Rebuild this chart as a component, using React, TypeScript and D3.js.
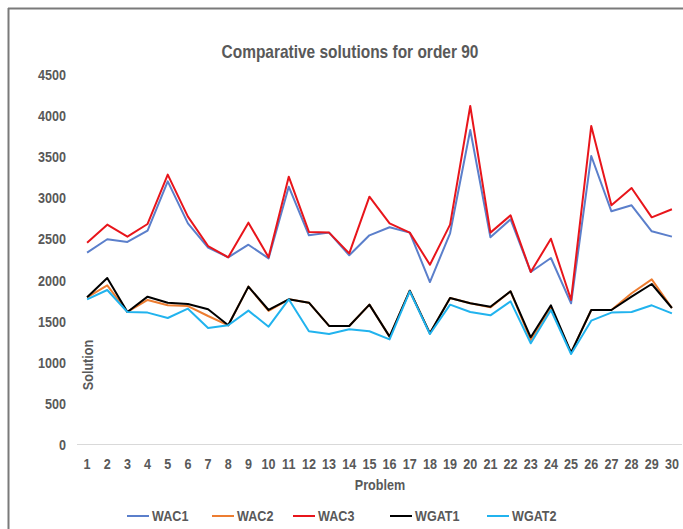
import React from "react";
import * as d3 from "d3";

const problems = d3.range(1, 31).map(String);
const yTicks = [0, 500, 1000, 1500, 2000, 2500, 3000, 3500, 4000, 4500];

const wac1 = [2339, 2502, 2469, 2607, 3207, 2696, 2400, 2283, 2436, 2270, 3142, 2550, 2583, 2307, 2550, 2648, 2583, 1982, 2575, 3831, 2526, 2745, 2104, 2274, 1723, 3515, 2842, 2915, 2599, 2534];
const wac2 = [1796, 1942, 1618, 1764, 1699, 1690, 1569, 1456, 1926, 1630, 1772, 1731, 1448, 1448, 1707, 1318, 1877, 1358, 1788, 1723, 1674, 1869, 1277, 1674, 1123, 1642, 1642, 1845, 2015, 1666];
const wac3 = [2460, 2680, 2534, 2688, 3288, 2777, 2420, 2283, 2704, 2283, 3263, 2591, 2583, 2331, 3020, 2696, 2583, 2193, 2680, 4123, 2583, 2793, 2104, 2509, 1764, 3880, 2915, 3126, 2769, 2867];
const wgat1 = [1796, 2031, 1618, 1804, 1731, 1715, 1650, 1456, 1926, 1642, 1772, 1731, 1448, 1448, 1707, 1318, 1877, 1358, 1788, 1723, 1682, 1869, 1310, 1699, 1123, 1642, 1642, 1804, 1958, 1666];
const wgat2 = [1772, 1885, 1618, 1610, 1545, 1658, 1423, 1456, 1634, 1439, 1772, 1383, 1350, 1407, 1383, 1285, 1869, 1350, 1707, 1618, 1577, 1747, 1237, 1642, 1107, 1512, 1610, 1618, 1699, 1601];

const seriesNames = ["WAC1", "WAC2", "WAC3", "WGAT1", "WGAT2"];
const seriesValues = [wac1, wac2, wac3, wgat1, wgat2];
const seriesColors = ["#5B7FCB", "#ED7D31", "#E8151B", "#000000", "#21B3EE"];
const legendX = [127, 212, 293, 390, 487];

const W = 683;
const H = 529;
const FONT = "'Liberation Sans', Arial, sans-serif";
const TXT = "#595959";
const SX = 0.84;

function NText(props: {
  x: number;
  y: number;
  size: number;
  anchor?: string;
  rotate?: number;
  sx?: number;
  children: React.ReactNode;
}) {
  const { x, y, size, anchor = "start", rotate = 0, sx = SX, children } = props;
  return (
    <text
      transform={`translate(${x},${y}) rotate(${rotate}) scale(${sx},1)`}
      textAnchor={anchor}
      fontSize={size}
      fontWeight="bold"
      fill={TXT}
    >
      {children}
    </text>
  );
}

export default function App() {
  const x = d3.scaleBand<string>().domain(problems).range([77, 682]).padding(0);
  const y = d3.scaleLinear().domain([0, 4500]).range([445, 75]);
  const cx = (p: string) => (x(p) as number) + x.bandwidth() / 2;
  const line = d3
    .line<number>()
    .x((_, i) => cx(problems[i]))
    .y((d) => y(d));

  return (
    <svg
      width={W}
      height={H}
      style={{ position: "absolute", left: 0, top: 0, background: "#fff" }}
      fontFamily={FONT}
    >
      <rect x={0} y={0} width={W} height={H} fill="#fff" />
      {/* frame */}
      <line x1={8} y1={8.5} x2={W} y2={8.5} stroke="#7a7a7a" strokeWidth={2} />
      <line x1={8.5} y1={8} x2={8.5} y2={H} stroke="#7a7a7a" strokeWidth={2} />

      <NText x={350} y={58} size={18} anchor="middle" sx={0.86}>
        Comparative solutions for order 90
      </NText>

      {/* y ticks */}
      {yTicks.map((t) => (
        <NText key={t} x={66} y={y(t) + 5} size={15} anchor="end">
          {t}
        </NText>
      ))}

      {/* x axis line */}
      <line x1={77} x2={682} y1={y(0) - 0.5} y2={y(0) - 0.5} stroke="#d9d9d9" strokeWidth={1} />
      {problems.map((p) => (
        <NText key={p} x={cx(p)} y={469} size={15} anchor="middle">
          {p}
        </NText>
      ))}

      <NText x={380} y={490} size={15} anchor="middle">
        Problem
      </NText>
      <NText x={93} y={365} size={15} anchor="middle" rotate={-90}>
        Solution
      </NText>

      {seriesValues.map((vals, i) => (
        <path
          key={seriesNames[i]}
          d={line(vals) as string}
          fill="none"
          stroke={seriesColors[i]}
          strokeWidth={2}
          strokeLinejoin="round"
        />
      ))}

      {/* legend */}
      {seriesNames.map((n, i) => (
        <g key={n}>
          <line x1={legendX[i]} x2={legendX[i] + 22} y1={516} y2={516} stroke={seriesColors[i]} strokeWidth={2} />
          <NText x={legendX[i] + 25} y={521} size={15}>
            {n}
          </NText>
        </g>
      ))}
    </svg>
  );
}
